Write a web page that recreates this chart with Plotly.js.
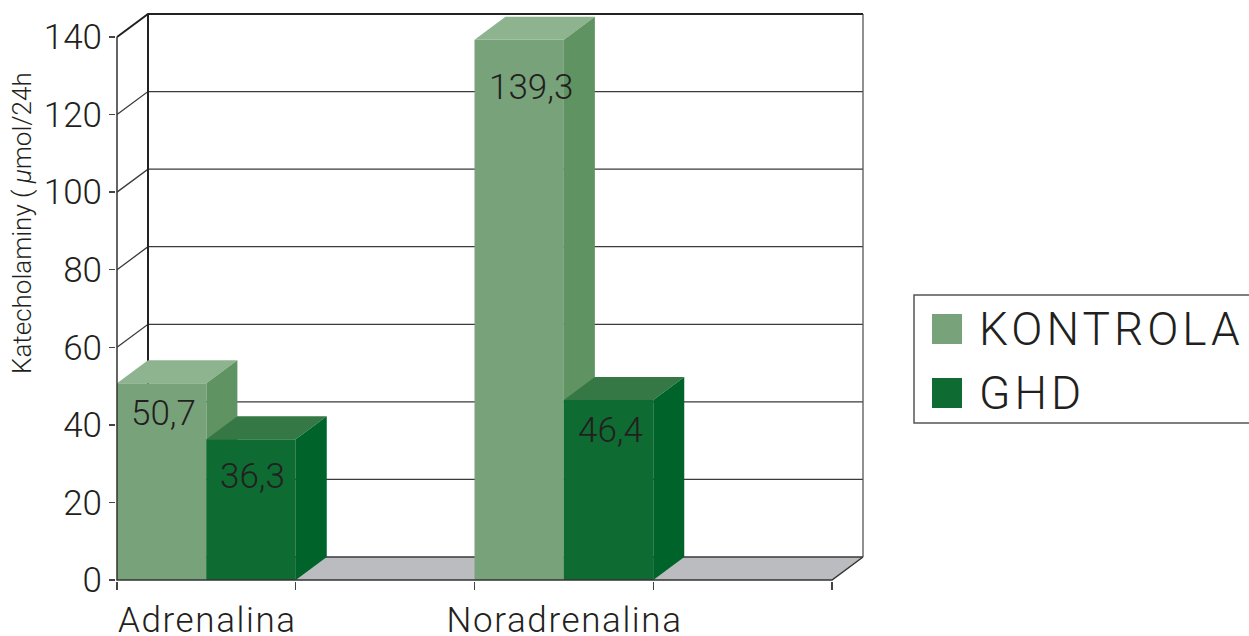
<!DOCTYPE html>
<html>
<head>
<meta charset="utf-8">
<script src="https://cdn.plot.ly/plotly-3.0.1.min.js"></script>
<style>html,body{margin:0;padding:0;background:#fff;}#chart{width:1249px;height:636px;}</style>
</head>
<body>
<div id="chart"></div>
<script>
// ---- data ----
const categories = ['Adrenalina', 'Noradrenalina'];
const seriesNames = ['KONTROLA', 'GHD'];
const kontrola = [50.7, 139.3];
const ghd = [36.3, 46.4];
const yTickVals = [0, 20, 40, 60, 80, 100, 120, 140];
const yTickText = ['0', '20', '40', '60', '80', '100', '120', '140'];
const yTitle = 'Katecholaminy ( <i>\u03bc</i>mol/24h';

// ---- styling / geometry constants ----
const seriesValues = [kontrola, ghd];
const colors = [
  {front: '#78a37a', top: '#8eb48f', side: '#5f9362'},
  {front: '#0e6b32', top: '#357845', side: '#00632a'}
];
const labelDy = [[30, 48], [37, 30]]; // px below bar top, per series / category
const FONT = 'Roboto, "Liberation Sans", Arial, sans-serif';
const TXT = '#231f20';
const legendSpacing = 4, catSpacing = 1.6;

const W = 1249, Hh = 636;
const pad = 1;
const slotsPerCat = 2;         // each category occupies two tick intervals
const barW = 0.5;              // bar width in x units
const pxX = 178.75;            // px per x unit
const pxY = 543 / 140;         // px per y unit
const dxPx = 31, dyPx = 23;    // 3D depth in px
const dxU = dxPx / pxX, dyU = dyPx / pxY;
const nSlots = categories.length * slotsPerCat;
const yMax = yTickVals[yTickVals.length - 1];

const L = 117 - pad, T = 14 - pad;
const plotW = nSlots * pxX + dxPx + 2 * pad;
const plotH = yMax * pxY + dyPx + 2 * pad;
const B = T + plotH;

const traces = [];
function poly(xs, ys, color) {
  traces.push({type: 'scatter', mode: 'lines', x: xs.concat([xs[0]]), y: ys.concat([ys[0]]),
    fill: 'toself', fillcolor: color, line: {width: 0, color: color}, hoverinfo: 'skip', showlegend: false});
}
function lines(xs, ys, color, width) {
  traces.push({type: 'scatter', mode: 'lines', x: xs, y: ys, line: {color: color, width: width},
    hoverinfo: 'skip', showlegend: false, connectgaps: false});
}

// floor
poly([0, nSlots, nSlots + dxU, dxU], [0, 0, dyU, dyU], '#bbbcbf');

// back wall gridlines (with side diagonals)
{
  const gx = [], gy = [];
  yTickVals.forEach(v => {
    if (v === yMax) return;
    gx.push(0, dxU, nSlots + dxU, null);
    gy.push(v, v + dyU, v + dyU, null);
  });
  lines(gx, gy, '#3a3a3a', 1.3);
}
// back wall frame
lines([dxU, dxU], [dyU, yMax + dyU], '#222', 2);
lines([nSlots + dxU, nSlots + dxU], [dyU, yMax + dyU], '#555', 1.3);
lines([0, dxU, nSlots + dxU], [yMax, yMax + dyU, yMax + dyU], '#222', 2);

// bars (front, top, side faces)
const annotations = [];
categories.forEach((cat, ci) => {
  seriesNames.forEach((s, si) => {
    const v = seriesValues[si][ci];
    const x0 = ci * slotsPerCat + si * barW, x1 = x0 + barW;
    const c = colors[si];
    poly([x0, x1, x1, x0], [0, 0, v, v], c.front);
    poly([x0, x1, x1 + dxU, x0 + dxU], [v, v, v + dyU, v + dyU], c.top);
    poly([x1, x1 + dxU, x1 + dxU, x1], [0, dyU, v + dyU, v], c.side);
    annotations.push({xref: 'x', yref: 'y', x: x0, y: v, xanchor: 'left', yanchor: 'middle',
      xshift: 12, yshift: -labelDy[si][ci], showarrow: false,
      text: String(v).replace('.', ','), font: {family: FONT, size: 35, color: TXT, weight: 300}});
  });
  annotations.push({xref: 'x', yref: 'y', x: ci * slotsPerCat + barW * seriesNames.length / 2, y: 0,
    xanchor: 'center', yanchor: 'middle', xshift: 1, yshift: -40, showarrow: false, text: cat,
    font: {family: FONT, size: 35, color: TXT, weight: 300}});
});

// front axes lines
lines([0, 0, nSlots, nSlots + dxU], [yMax, 0, 0, dyU], '#333', 1.5);

// y-axis title
annotations.push({xref: 'paper', yref: 'paper', x: (22 - L) / plotW, y: (B - 223) / plotH,
  xanchor: 'center', yanchor: 'middle', textangle: -90, showarrow: false, text: yTitle,
  font: {family: FONT, size: 26, color: TXT, weight: 300}});

// legend (manual)
const px = x => (x - L) / plotW, py = y => (B - y) / plotH;
const shapes = [
  {type: 'rect', xref: 'paper', yref: 'paper', x0: px(914), x1: px(1262), y0: py(423), y1: py(295),
    line: {color: '#555', width: 1.5}, fillcolor: 'rgba(0,0,0,0)'}
];
seriesNames.forEach((s, si) => {
  const yc = 329 + si * 64;
  shapes.push({type: 'rect', xref: 'paper', yref: 'paper', x0: px(932), x1: px(962),
    y0: py(yc + 15), y1: py(yc - 15), line: {width: 0}, fillcolor: colors[si].front});
  annotations.push({xref: 'paper', yref: 'paper', x: px(977), y: py(yc), xanchor: 'left', yanchor: 'middle',
    xshift: s.length * legendSpacing / 2, showarrow: false, text: s,
    font: {family: FONT, size: 46, color: TXT, weight: 300}});
});

const layout = {
  width: W, height: Hh,
  margin: {l: L, t: T, r: W - L - plotW, b: Hh - B, pad: 0},
  paper_bgcolor: '#fff', plot_bgcolor: '#fff',
  showlegend: false,
  xaxis: {range: [-pad / pxX, nSlots + dxU + pad / pxX], tickvals: Array.from({length: nSlots + 1}, (_, i) => i),
    showticklabels: false, ticks: 'outside', ticklen: 8, tickwidth: 1.3, tickcolor: '#444',
    showgrid: false, zeroline: false, showline: false, fixedrange: true},
  yaxis: {range: [-pad / pxY, yMax + dyU + pad / pxY], tickvals: yTickVals, ticktext: yTickText,
    ticks: 'outside', ticklen: 6, tickwidth: 1.3, tickcolor: '#444',
    tickfont: {family: FONT, size: 35, color: TXT, weight: 300},
    showgrid: false, zeroline: false, showline: false, fixedrange: true},
  shapes: shapes,
  annotations: annotations
};

Plotly.newPlot('chart', traces, layout, {displayModeBar: false, staticPlot: true}).then(() => {
  document.querySelectorAll('.annotation-text').forEach(el => {
    const t = el.textContent;
    if (seriesNames.includes(t)) el.style.letterSpacing = legendSpacing + 'px';
    else if (categories.includes(t)) el.style.letterSpacing = catSpacing + 'px';
  });
});
</script>
</body>
</html>
